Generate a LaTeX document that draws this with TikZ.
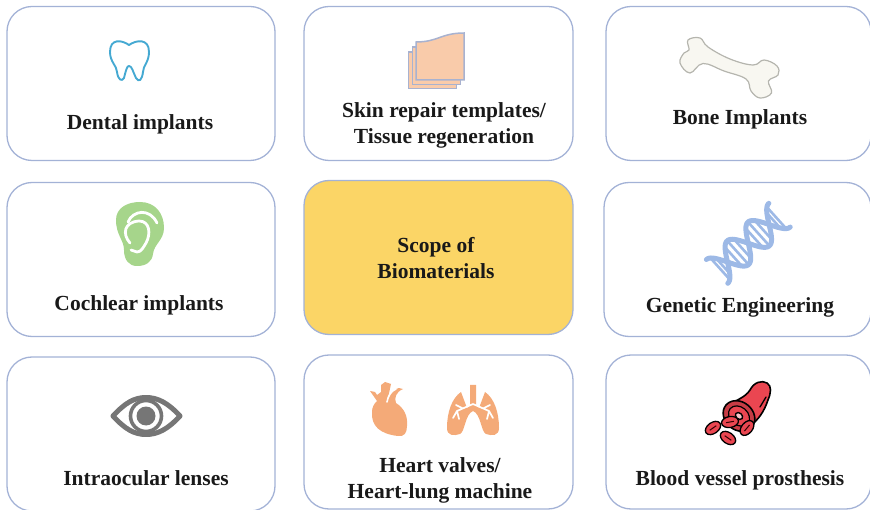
\documentclass[tikz,border=0pt]{standalone}
\usepackage{fontspec}
\setmainfont{Liberation Serif}
\usetikzlibrary{positioning}

\definecolor{cardline}{HTML}{A3B2D6}
\definecolor{scopeyellow}{HTML}{FBD566}
\definecolor{toothblue}{HTML}{45A9D2}
\definecolor{skinpeach}{HTML}{F9CBAA}
\definecolor{skinline}{HTML}{A8B2D0}
\definecolor{boneline}{HTML}{B5B5AE}
\definecolor{bonefill}{HTML}{F8F7F1}
\definecolor{eargreen}{HTML}{A6D58B}
\definecolor{dnablue}{HTML}{9DB9E6}
\definecolor{eyegray}{HTML}{767676}
\definecolor{organpeach}{HTML}{F4AA78}
\definecolor{vesselred}{HTML}{EA4651}

\tikzset{
  cardbox/.style={draw=cardline,line width=1.3pt,rounded corners=25pt,minimum height=154pt,inner sep=0pt},
  cardtext/.style={font=\fontsize{21.5}{26}\selectfont\bfseries,text=black!90,align=center,inner sep=0pt}
}

\begin{document}
\begin{tikzpicture}[x=1pt,y=-1pt]
  \useasboundingbox (0,0) rectangle (870,510);

  % cards
  \node[cardbox,minimum width=268pt] (dental) at (141,83.5) {};
  \node[cardbox,minimum width=269pt] (skin) at (438.5,83.5) {};
  \node[cardbox,minimum width=265pt] (bone) at (738.5,83.5) {};
  \node[cardbox,minimum width=268pt] (cochlear) at (141,259.5) {};
  \node[cardbox,minimum width=269pt,fill=scopeyellow] (scope) at (438.5,257.5) {};
  \node[cardbox,minimum width=267pt] (genetic) at (737.5,259.5) {};
  \node[cardbox,minimum width=268pt] (lens) at (141,434) {};
  \node[cardbox,minimum width=269pt] (heart) at (438.5,432) {};
  \node[cardbox,minimum width=265pt] (vessel) at (738.5,432) {};

  % labels
  \node[cardtext] (dentaltext) at (140,124) {Dental implants};
  \node[cardtext] (skintext) at (444,125) {Skin repair templates/\\Tissue regeneration};
  \node[cardtext] (bonetext) at (740,119) {Bone Implants};
  \node[cardtext] (cochleartext) at (139,305) {Cochlear implants};
  \node[cardtext] (scopetext) at (436,258) {Scope of\\Biomaterials};
  \node[cardtext] (genetictext) at (740,307) {Genetic Engineering};
  \node[cardtext] (lenstext) at (146,478) {Intraocular lenses};
  \node[cardtext] (hearttext) at (440,480) {Heart valves/\\Heart-lung machine};
  \node[cardtext] (vesseltext) at (740,480) {Blood vessel prosthesis};

  % tooth
  \draw[toothblue,line width=1.9pt,line join=round]
    (129,45) .. controls (122,40) and (110,38) .. (110,52)
    .. controls (110,62) and (117,66) .. (117,72)
    .. controls (118,80) and (122,82) .. (124,78)
    .. controls (126,70) and (127,66) .. (129,66)
    .. controls (132,66) and (133,72) .. (136,78)
    .. controls (139,83) and (142,80) .. (143,72)
    .. controls (143,66) and (149,62) .. (149,52)
    .. controls (149,38) and (136,40) .. (129,45) -- cycle;

  % skin sheets
  \draw[skinline,fill=skinpeach,line width=1.5pt] (408.5,52) -- (456.5,52) -- (456.5,88.5) -- (408.5,88.5) -- cycle;
  \draw[skinline,fill=skinpeach,line width=1.5pt] (412.5,47) -- (460.5,47) -- (460.5,84.5) -- (412.5,84.5) -- cycle;
  \draw[skinline,fill=skinpeach,line width=1.5pt] (416,42) .. controls (438,42) and (441,33) .. (464,33) -- (464,80) -- (416,80) -- cycle;

  % bone
  \draw[boneline,fill=bonefill,line width=1.2pt] plot[smooth cycle,tension=0.65] coordinates {
    (688,40) (700,38) (708,47) (730,59) (753,65) (764,60) (777,66)
    (778,75) (768.5,81) (771.5,93) (760,98) (751,91) (746,79) (724,71)
    (703,63.5) (690,73) (680,63) (684,53) (689,50)};

  % ear
  \fill[eargreen] (116,220) .. controls (116,208) and (127,202) .. (140,202)
    .. controls (155,202) and (164,213) .. (164,228)
    .. controls (164,240) and (154,244) .. (153,254)
    .. controls (152,262) and (146,266) .. (137,266)
    .. controls (129,266) and (124,260) .. (124,250)
    .. controls (124,240) and (116,235) .. (116,220) -- cycle;
  \draw[white,line width=2.8pt,line cap=round] (128,222) .. controls (133,210) and (150,208) .. (157,223);
  \draw[white,line width=2.8pt,line cap=round] (130,243) .. controls (122,234) and (124,222) .. (139,221)
    .. controls (150,221) and (151,234) .. (146,243) .. controls (143,248) and (141,252) .. (137,252) -- (131,250);

  % dna
  \begin{scope}[shift={(748.3,243.3)},rotate=42]
    \foreach \rungx in {-38,-34,-20,-14,-8,8,14,20,34,38} {
      \draw[dnablue,line width=2.6pt] ({\rungx},{-15*sin(180*\rungx/28)}) -- ({\rungx},{15*sin(180*\rungx/28)});
    }
    \draw[dnablue,line width=5pt,line cap=round] plot[domain=-42:42,samples=60,smooth,variable=\t] ({\t},{16*sin(180*\t/28)});
    \draw[dnablue,line width=5pt,line cap=round] plot[domain=-42:42,samples=60,smooth,variable=\t] ({\t},{-16*sin(180*\t/28)});
  \end{scope}

  % eye
  \draw[eyegray,line width=5pt,line join=round] (113,416) .. controls (125,403) and (134,397.5) .. (146,397.5)
    .. controls (158,397.5) and (168,403) .. (180,416)
    .. controls (168,429) and (158,434.5) .. (146,434.5)
    .. controls (134,434.5) and (125,429) .. (113,416) -- cycle;
  \draw[eyegray,line width=3.6pt] (146,416) circle (15.5);
  \fill[eyegray] (146,416) circle (9.5);

  % heart
  \fill[organpeach] (370,391) -- (375,392) -- (377,395) -- (381,392) -- (381,385) -- (385,382) -- (391,384) -- (388,398)
    .. controls (393,390) and (397,386) .. (403,389) .. controls (396,392) and (394,398) .. (396,403)
    .. controls (404,408) and (408,416) .. (407,426)
    .. controls (407,433) and (404,437) .. (398,436)
    .. controls (380,434) and (371,426) .. (372,412)
    .. controls (372,407) and (374,404) .. (377,401) -- cycle;
  \draw[white,line width=1.6pt,line cap=round] (387,402) .. controls (388,396) and (391,391) .. (396,389);

  % lungs
  \fill[organpeach] (470,392) -- (470,385) -- (476,385) -- (476,392) -- (476,405) -- (479,408) -- (485,392)
    .. controls (494,398) and (499,412) .. (499,428) .. controls (499,436) and (492,436) .. (486,434)
    .. controls (481,432) and (481,414) .. (473,411)
    .. controls (465,414) and (465,432) .. (460,434)
    .. controls (454,436) and (447,436) .. (447,428)
    .. controls (447,412) and (452,398) .. (461,392) -- (467,408) -- (470,405) -- cycle;
  \draw[white,line width=1.7pt,line cap=round,line join=round]
    (473,404) -- (457,411) -- (453,418) (457,411) -- (459,419) (463,408.5) -- (456,405)
    (473,404) -- (489,411) -- (493,418) (489,411) -- (487,419) (483,408.5) -- (490,405);

  % vessel
  \draw[black,fill=vesselred,line width=1.6pt,line join=round] (725,408) .. controls (735,400) and (745,398) .. (750,390)
    .. controls (754,382) and (762,380) .. (767,383)
    .. controls (772,386) and (771,393) .. (768,400)
    .. controls (764,412) and (758,420) .. (751,425) -- cycle;
  \draw[black,line width=1.3pt,line cap=round] (766,397) -- (760,407);
  \draw[black,fill=vesselred!85!black,line width=1.6pt,rotate around={-40:(739,416)}] (739,416) ellipse (17 and 14);
  \draw[black,fill=vesselred,line width=1.2pt,rotate around={-40:(739,416)}] (739,416) ellipse (11.5 and 9);
  \draw[black,fill=vesselred!30,line width=1.4pt,rotate around={-40:(739,416)}] (739,416) ellipse (4 and 3);
  \foreach \cellx/\celly/\cellangle in {713/428/35,728/438/-35,730/422/10,747/428/50} {
    \draw[black,fill=vesselred,line width=1.3pt,rotate around={\cellangle:(\cellx,\celly)}] (\cellx,\celly) ellipse (8.5 and 5.5);
    \draw[black!80!red,line width=1pt,rotate around={\cellangle:(\cellx,\celly)}] (\cellx-4,\celly) -- (\cellx+4,\celly);
  }
\end{tikzpicture}
\end{document}
